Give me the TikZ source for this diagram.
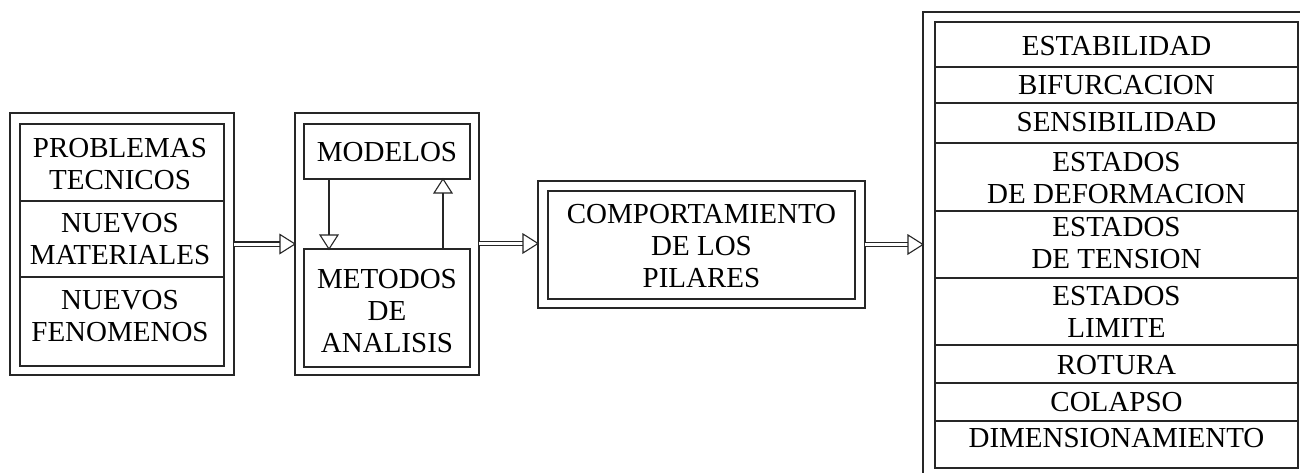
\documentclass[tikz,border=0pt]{standalone}
\usepackage{fontspec}
\setmainfont{Liberation Serif}
\usetikzlibrary{arrows.meta,calc}
\begin{document}
\begin{tikzpicture}[x=1pt,y=-1pt,
  frame/.style={draw=black!85, line width=1.5pt, inner sep=0pt, outer sep=0pt},
  lbl/.style={font=\fontsize{29}{32}\selectfont, align=center, inner sep=0pt},
  dbl/.style={draw=black!85, double=white, double distance=3pt, line width=1.1pt},
  tiptri/.style={draw=black!85, fill=white, line width=1.1pt, line join=miter},
  shaft/.style={draw=black!85, line width=1.3pt}
]
\useasboundingbox (0,0) rectangle (1300,473);
\clip (0,0) rectangle (1300,473);
\fill[white] (0,0) rectangle (1300,473);

% Box 1
\node[frame, minimum width=224pt, minimum height=262pt] (o1) at (122,244) {};
\node[frame, minimum width=204pt, minimum height=242pt] (i1) at (122,245) {};
\draw[frame] (i1.west |- 0,201) -- (i1.east |- 0,201);
\draw[frame] (i1.west |- 0,277) -- (i1.east |- 0,277);
\node[lbl] (t11) at (120,164) {PROBLEMAS\\TECNICOS};
\node[lbl] (t12) at (120,239) {NUEVOS\\MATERIALES};
\node[lbl] (t13) at (120,316) {NUEVOS\\FENOMENOS};

% Box 2
\node[frame, minimum width=184pt, minimum height=262pt] (o2) at (387,244) {};
\node[frame, minimum width=166pt, minimum height=55pt] (mod) at (387,151.5) {};
\node[frame, minimum width=166pt, minimum height=118pt] (met) at (387,308) {};
\node[lbl] (tmod) at (387,152) {MODELOS};
\node[lbl] (tmet) at (387,311) {METODOS\\DE\\ANALISIS};
\coordinate (d1) at (mod.south -| 329,0);
\coordinate (d2) at (met.north -| 329,0);
\draw[shaft] (d1) -- ($(d2)+(0,-14)$);
\draw[tiptri] ($(d2)+(-9,-14)$) -- (d2) -- ($(d2)+(9,-14)$) -- cycle;
\coordinate (u1) at (met.north -| 443,0);
\coordinate (u2) at (mod.south -| 443,0);
\draw[shaft] (u1) -- ($(u2)+(0,14)$);
\draw[tiptri] ($(u2)+(-9,14)$) -- (u2) -- ($(u2)+(9,14)$) -- cycle;

% Box 3
\node[frame, minimum width=327pt, minimum height=127pt] (o3) at (701.5,244.5) {};
\node[frame, minimum width=307pt, minimum height=108pt] (i3) at (701.5,245) {};
\node[lbl] (t3) at (701.5,246) {COMPORTAMIENTO\\DE LOS\\PILARES};

% Box 4
\node[frame, minimum width=389pt, minimum height=473pt] (o4) at (1117.5,248.5) {};
\node[frame, minimum width=363pt, minimum height=446pt] (i4) at (1116.5,245) {};
\foreach \yy in {67,103,143,211,278,345,383,421}
  \draw[frame] (i4.west |- 0,\yy) -- (i4.east |- 0,\yy);
\node[lbl] (r1) at (1116.5,46) {ESTABILIDAD};
\node[lbl] (r2) at (1116.5,85) {BIFURCACION};
\node[lbl] (r3) at (1116.5,122) {SENSIBILIDAD};
\node[lbl] (r4) at (1116.5,178) {ESTADOS\\DE DEFORMACION};
\node[lbl] (r5) at (1116.5,243) {ESTADOS\\DE TENSION};
\node[lbl] (r6) at (1116.5,312) {ESTADOS\\LIMITE};
\node[lbl] (r7) at (1116.5,365) {ROTURA};
\node[lbl] (r8) at (1116.5,402) {COLAPSO};
\node[lbl] (r9) at (1116.5,438) {DIMENSIONAMIENTO};

% Double arrows
\draw[dbl] (o1.east) -- ($(o2.west)+(-15,0)$);
\draw[tiptri] ($(o2.west)+(-15,-9.5)$) -- (o2.west) -- ($(o2.west)+(-15,9.5)$) -- cycle;
\coordinate (a3) at ($(o2.east)+(0,-0.5)$);
\draw[dbl] (a3) -- ($(a3 -| o3.west)+(-15,0)$);
\draw[tiptri] ($(a3 -| o3.west)+(-15,-9.5)$) -- (a3 -| o3.west) -- ($(a3 -| o3.west)+(-15,9.5)$) -- cycle;
\coordinate (a4) at (o3.east -| o4.west);
\draw[dbl] (o3.east) -- ($(a4)+(-15,0)$);
\draw[tiptri] ($(a4)+(-15,-9.5)$) -- (a4) -- ($(a4)+(-15,9.5)$) -- cycle;
\end{tikzpicture}
\end{document}
